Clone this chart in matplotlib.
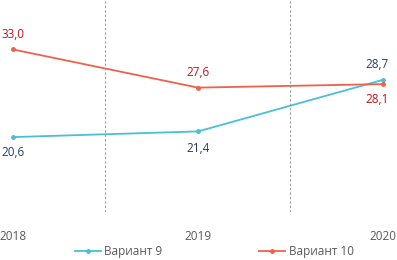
import matplotlib
matplotlib.use("Agg")
import matplotlib.pyplot as plt

categories = ["2018", "2019", "2020"]
variant9 = [20.6, 21.4, 28.7]
variant10 = [33.0, 27.6, 28.1]
labels9 = ["20,6", "21,4", "28,7"]
labels10 = ["33,0", "27,6", "28,1"]

plt.rcParams['font.family'] = ['Open Sans', 'DejaVu Sans']

W, H = 397, 260
fig = plt.figure(figsize=(W/100, H/100), dpi=100)
ax = fig.add_axes([0, 1 - 212/H, 1, 212/H])

x = list(range(len(categories)))
c9 = "#4BBFD6"
c10 = "#F0614C"
ax.plot(x, variant9, color=c9, lw=1.3, marker="o", ms=2.5, label="Вариант 9")
ax.plot(x, variant10, color=c10, lw=1.3, marker="o", ms=2.5, label="Вариант 10")

ax.set_ylim(10, 40)
sp = 185
ax.set_xlim(-13/sp, 2 + 14/sp)
for b in [0.5, 1.5]:
    ax.axvline(b, color="#9a9a9a", lw=0.8, ls=(0, (2, 2)))

for sp_ in ax.spines.values():
    sp_.set_visible(False)
ax.set_yticks([])
ax.set_xticks([])

# tick labels
for i, c in enumerate(categories):
    ax.annotate(c, (i, 10), xytext=(0, -18), textcoords="offset points",
                ha="center", va="center", fontsize=8.5, color="#595959",
                annotation_clip=False)

off9 = [(0, -11), (0, -12), (-4, 11)]
off10 = [(0, 11), (0, 11), (-4, -11)]
for i in x:
    ax.annotate(labels9[i], (i, variant9[i]), xytext=off9[i], textcoords="offset points",
                ha="center", va="center", fontsize=8.5, color="#243F60", annotation_clip=False)
    ax.annotate(labels10[i], (i, variant10[i]), xytext=off10[i], textcoords="offset points",
                ha="center", va="center", fontsize=8.5, color="#C0141C", annotation_clip=False)

fig.legend(loc="center", bbox_to_anchor=(0.54, 1 - 252/H), ncol=2, frameon=False,
           fontsize=8.5, handlelength=2.2, columnspacing=8.2, labelcolor="#595959",
           handletextpad=0.3)

fig.savefig("out.png", dpi=100)
